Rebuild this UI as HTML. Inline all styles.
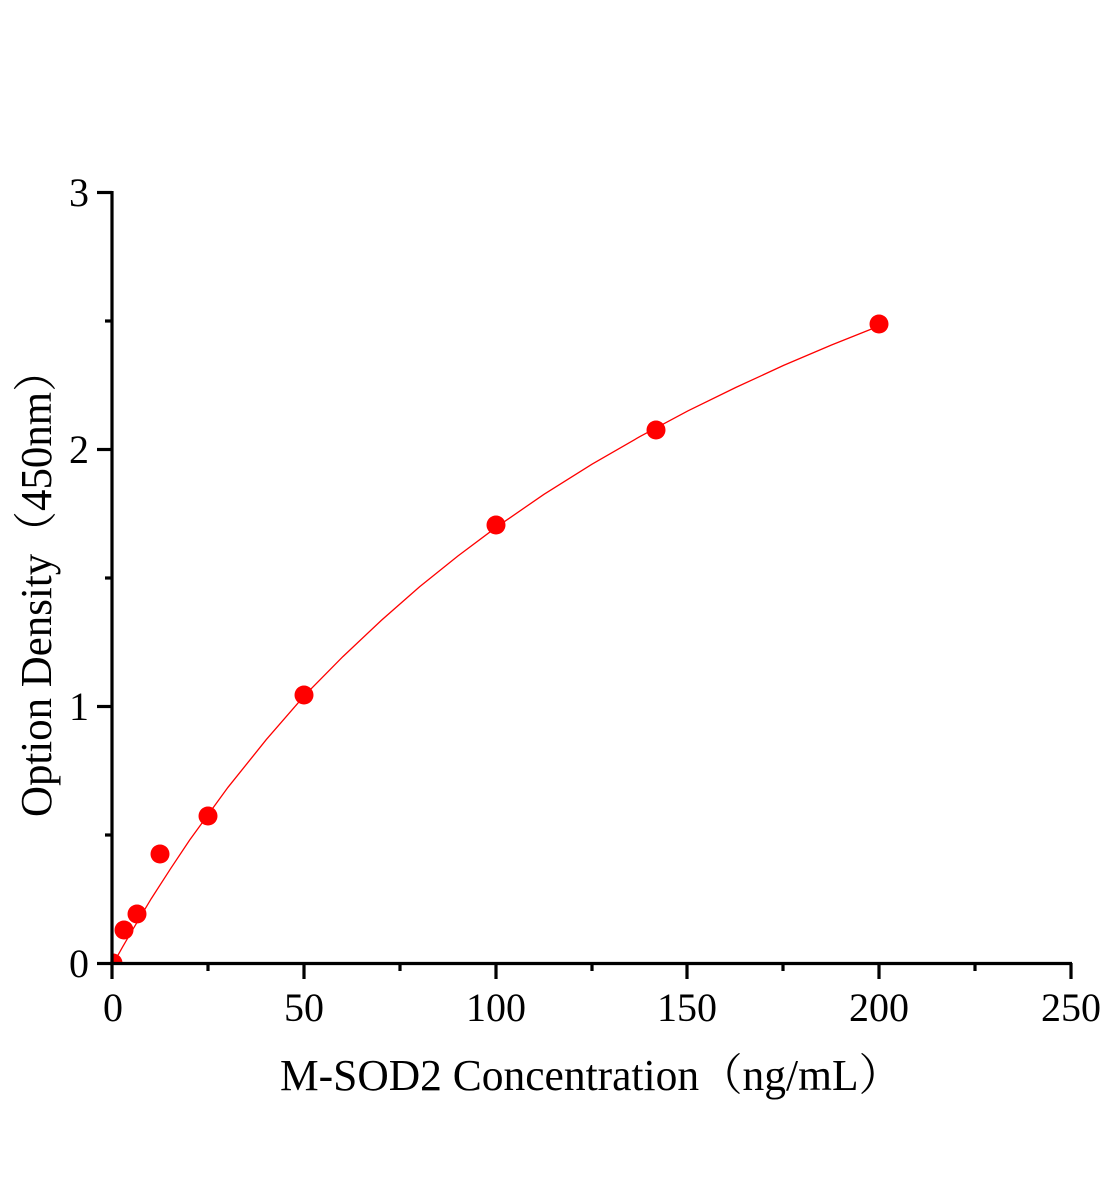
<!DOCTYPE html>
<html><head><meta charset="utf-8"><style>
html,body{margin:0;padding:0;background:#fff;}
svg{display:block;}
text{font-family:"Liberation Serif","Noto Serif CJK SC",serif;fill:#000;}
</style></head><body>
<svg width="1104" height="1200" viewBox="0 0 1104 1200" xmlns="http://www.w3.org/2000/svg">
<defs><clipPath id="c"><rect x="112" y="150" width="980" height="813"/></clipPath></defs>
<g clip-path="url(#c)">
<polyline fill="none" stroke="#f00" stroke-width="1.3" points="113,964 122.6,946.9 132.2,930.4 151.3,898.6 170.5,868.8 189.6,840.1 228,787.3 266.3,739.6 304.6,695.4 342.9,656.6 381.2,620.5 419.6,586.8 457.9,556 496.2,527.3 544,494.3 592,464.2 639.9,436.6 687.8,410.9 735.7,387.5 783.6,365.4 831.5,345 879.4,325.9"/>
<g fill="#f00">
<circle cx="113" cy="963" r="9.5"/>
<circle cx="124" cy="930" r="9.5"/>
<circle cx="137" cy="914" r="9.5"/>
<circle cx="160" cy="854" r="9.5"/>
<circle cx="208" cy="816" r="9.5"/>
<circle cx="304" cy="695" r="9.5"/>
<circle cx="496" cy="525" r="9.5"/>
<circle cx="656" cy="430" r="9.5"/>
<circle cx="879" cy="324" r="9.5"/>
</g>
</g>
<g stroke="#000" stroke-width="3.2" fill="none">
<line x1="112" y1="191" x2="112" y2="965"/>
<line x1="110" y1="963.5" x2="1072" y2="963.5"/>
<line x1="112" y1="963" x2="112" y2="979"/>
<line x1="304" y1="963" x2="304" y2="979"/>
<line x1="496" y1="963" x2="496" y2="979"/>
<line x1="687" y1="963" x2="687" y2="979"/>
<line x1="879" y1="963" x2="879" y2="979"/>
<line x1="1071" y1="963" x2="1071" y2="979"/>
<line x1="208" y1="963" x2="208" y2="971"/>
<line x1="400" y1="963" x2="400" y2="971"/>
<line x1="592" y1="963" x2="592" y2="971"/>
<line x1="783" y1="963" x2="783" y2="971"/>
<line x1="975" y1="963" x2="975" y2="971"/>
<line x1="97" y1="963.5" x2="112" y2="963.5"/>
<line x1="97" y1="706.5" x2="112" y2="706.5"/>
<line x1="97" y1="449.5" x2="112" y2="449.5"/>
<line x1="97" y1="192.5" x2="112" y2="192.5"/>
<line x1="105" y1="835" x2="112" y2="835"/>
<line x1="105" y1="578" x2="112" y2="578"/>
<line x1="105" y1="321" x2="112" y2="321"/>
</g>
<g font-size="40" text-anchor="middle">
<text x="113" y="1021">0</text>
<text x="304" y="1021">50</text>
<text x="496" y="1021">100</text>
<text x="687" y="1021">150</text>
<text x="879" y="1021">200</text>
<text x="1071" y="1021">250</text>
</g>
<g font-size="40" text-anchor="end">
<text x="89" y="977">0</text>
<text x="89" y="720">1</text>
<text x="89" y="463">2</text>
<text x="89" y="206">3</text>
</g>
<text x="280" y="1090" font-size="44" textLength="622" lengthAdjust="spacingAndGlyphs">M-SOD2 Concentration（ng/mL）</text>
<text transform="translate(51,817) rotate(-90)" font-size="44" textLength="468" lengthAdjust="spacingAndGlyphs">Option Density（450nm）</text>
</svg>
</body></html>
